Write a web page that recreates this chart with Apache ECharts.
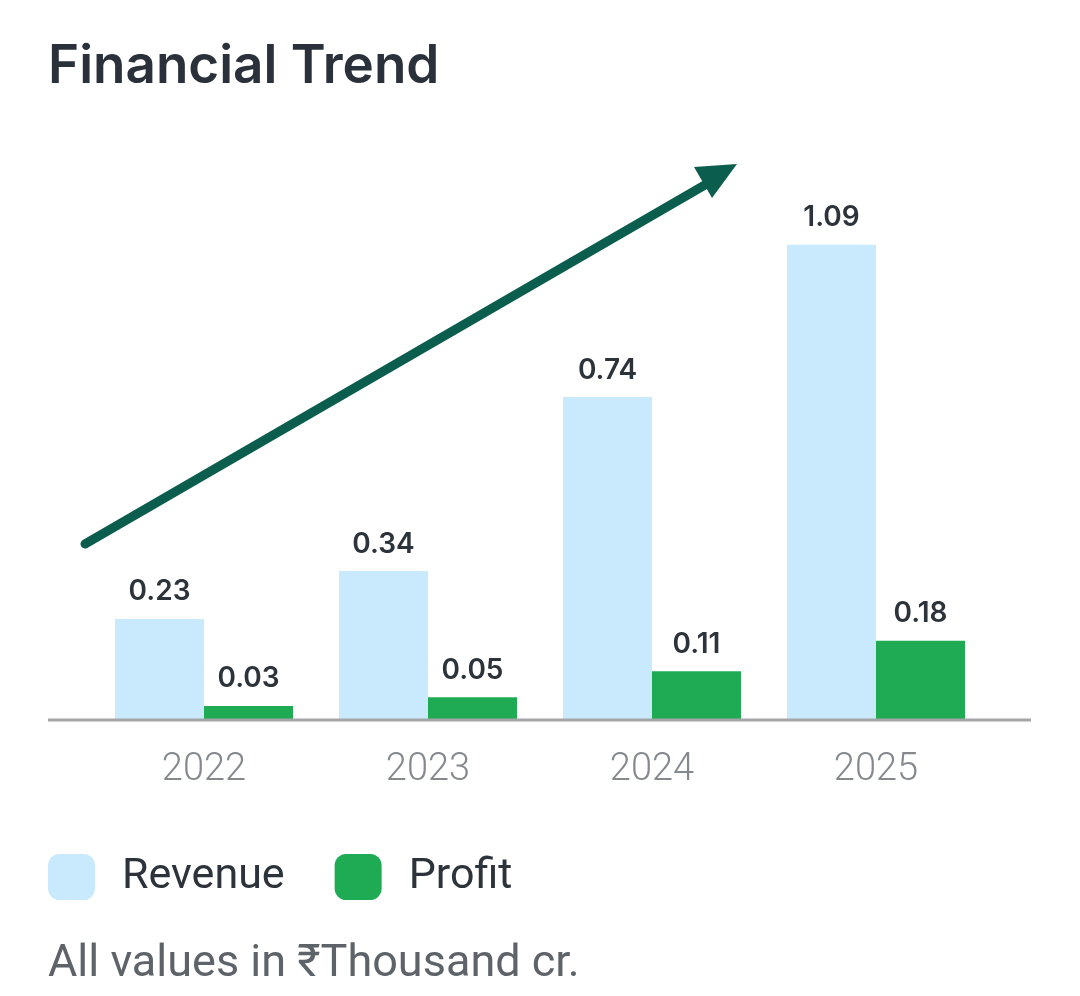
<!DOCTYPE html>
<html lang="en">
<head>
    <meta charset="UTF-8">
    <title>Financial Trend</title>
    <script type="text/javascript" src="https://cdn.jsdelivr.net/npm/echarts@6/dist/echarts.min.js"></script>
    <style>
        html, body { margin: 0; padding: 0; background: #ffffff; }
        #main { width: 1080px; height: 996px; }
    </style>
</head>
<body>
<div id="main"></div>
<script>
    // data (values in ₹ Thousand cr.)
    var years = ['2022', '2023', '2024', '2025'];
    var revenue = [0.23, 0.34, 0.74, 1.09];
    var profit = [0.03, 0.05, 0.11, 0.18];
    var seriesNames = ['Revenue', 'Profit'];

    var chart = echarts.init(document.getElementById('main'));

    var baseY = 719; // where the bars stand
    var valueLabel = {
        show: true,
        position: 'top',
        distance: 13,
        fontFamily: 'Inter',
        fontWeight: 600,
        fontSize: 28,
        color: '#2d333a',
        formatter: function (p) { return p.value.toFixed(2); }
    };

    var option = {
        backgroundColor: '#ffffff',
        animation: false,
        title: {
            text: 'Financial Trend',
            left: 43,
            top: 36,
            textStyle: {
                fontFamily: 'Inter',
                fontWeight: 600,
                fontSize: 53,
                color: '#2b313a'
            }
        },
        legend: {
            data: seriesNames,
            left: 43,
            top: 849,
            itemWidth: 47,
            itemHeight: 46,
            itemGap: 50,
            icon: 'roundRect',
            textStyle: {
                fontFamily: 'Roboto',
                fontSize: 43,
                color: '#2d333a',
                padding: [4, 0, 0, 22]
            }
        },
        grid: {
            left: 92,
            right: 92,
            top: baseY - 435 * 1.2,
            bottom: 996 - baseY,
            containLabel: false
        },
        xAxis: {
            type: 'category',
            data: years,
            axisLine: { show: false },
            axisTick: { show: false },
            axisLabel: {
                margin: 32,
                fontFamily: 'Roboto',
                fontWeight: 300,
                fontSize: 38,
                color: '#85898e'
            }
        },
        yAxis: {
            type: 'value',
            min: 0,
            max: 1.2,
            show: false,
            splitLine: { show: false }
        },
        series: [
            {
                name: seriesNames[0],
                type: 'bar',
                data: revenue,
                barWidth: 89,
                barGap: '0%',
                itemStyle: { color: '#c8eafc' },
                label: valueLabel
            },
            {
                name: seriesNames[1],
                type: 'bar',
                data: profit,
                barWidth: 89,
                itemStyle: { color: '#1eab53' },
                label: valueLabel
            }
        ],
        graphic: [
            // baseline runs wider than the category band
            {
                type: 'line',
                shape: { x1: 48, y1: baseY + 1, x2: 1031, y2: baseY + 1 },
                style: { stroke: '#a3a5a8', lineWidth: 3 },
                z: 10
            },
            // trend arrow
            {
                type: 'line',
                shape: { x1: 85, y1: 544, x2: 710, y2: 182 },
                style: { stroke: '#0b5e4d', lineWidth: 9, lineCap: 'round' },
                z: 10
            },
            {
                type: 'polygon',
                shape: { points: [[694, 167], [737, 164], [712, 198]] },
                style: { fill: '#0b5e4d' },
                z: 10
            },
            {
                type: 'text',
                left: 48,
                top: 942,
                style: {
                    text: 'All values in ₹Thousand cr.',
                    font: '45px Roboto',
                    fill: '#5d6368'
                }
            }
        ]
    };

    chart.setOption(option);
</script>
</body>
</html>
